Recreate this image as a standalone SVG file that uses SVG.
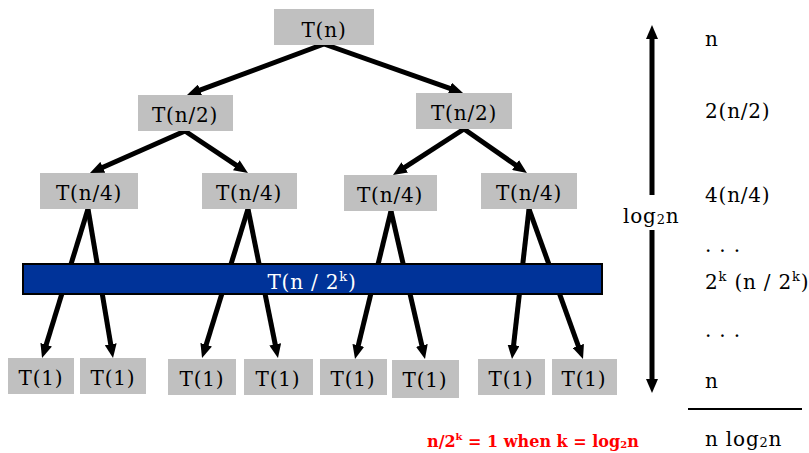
<svg xmlns="http://www.w3.org/2000/svg" width="809" height="453" viewBox="0 0 809 453">
<defs>
<style>
.box{fill:#c0c0c0}
.t{font-family:"DejaVu Serif","Liberation Serif",serif;font-size:20px;letter-spacing:0.8px;fill:#000;text-anchor:middle}
.r{font-family:"DejaVu Serif","Liberation Serif",serif;font-size:20px;letter-spacing:0.8px;fill:#000}
.ln{stroke:#000;stroke-width:5;fill:none;marker-end:url(#ah)}
.sup{font-size:13px}
</style>
<marker id="ah" markerUnits="userSpaceOnUse" viewBox="0 0 14 12" markerWidth="14" markerHeight="12" refX="6" refY="6" orient="auto">
<path d="M0,0 L14,6 L0,12 z" fill="#000"/>
</marker>
</defs>
<rect width="809" height="453" fill="#fff"/>
<g id="connectors">
<line class="ln" x1="324" y1="44" x2="194.5" y2="92.2"/>
<line class="ln" x1="324" y1="44" x2="455.5" y2="90.3"/>
<line class="ln" x1="185" y1="131" x2="97.3" y2="169.8"/>
<line class="ln" x1="185" y1="131" x2="241.3" y2="168.6"/>
<line class="ln" x1="464" y1="129" x2="399.7" y2="170.6"/>
<line class="ln" x1="464" y1="129" x2="520.4" y2="168.4"/>
<line class="ln" x1="88" y1="209" x2="44.4" y2="350.4"/>
<line class="ln" x1="88" y1="209" x2="111.7" y2="350.1"/>
<line class="ln" x1="248" y1="209" x2="204.4" y2="350.4"/>
<line class="ln" x1="248" y1="209" x2="276.4" y2="350.2"/>
<line class="ln" x1="391" y1="211" x2="356.9" y2="351.2"/>
<line class="ln" x1="391" y1="211" x2="423.2" y2="351.2"/>
<line class="ln" x1="529" y1="209" x2="512.9" y2="351.1"/>
<line class="ln" x1="529" y1="209" x2="580.3" y2="351.5"/>
<line class="ln" x1="652" y1="195" x2="652" y2="33"/>
<line class="ln" x1="652" y1="230" x2="652" y2="385"/>
</g>
<g id="n-root"><rect class="box" x="274" y="9" width="100" height="36"/><text class="t" x="324" y="37">T(n)</text></g>
<g id="n-l2a"><rect class="box" x="138" y="95" width="95" height="36"/><text class="t" x="185" y="122">T(n/2)</text></g>
<g id="n-l2b"><rect class="box" x="416" y="93" width="96" height="36"/><text class="t" x="464" y="120">T(n/2)</text></g>
<g id="n-l4a"><rect class="box" x="40" y="173" width="98" height="36"/><text class="t" x="89" y="200">T(n/4)</text></g>
<g id="n-l4b"><rect class="box" x="202" y="173" width="95" height="36"/><text class="t" x="249" y="200">T(n/4)</text></g>
<g id="n-l4c"><rect class="box" x="344" y="175" width="93" height="36"/><text class="t" x="390" y="202">T(n/4)</text></g>
<g id="n-l4d"><rect class="box" x="481" y="173" width="96" height="36"/><text class="t" x="529" y="200">T(n/4)</text></g>
<g id="n-level-k"><rect x="23" y="264" width="579" height="30" fill="#003399" stroke="#000" stroke-width="2"/><text class="t" x="312" y="289" style="fill:#fff">T(n / 2<tspan class="sup" dy="-8">k</tspan><tspan dy="8">)</tspan></text></g>
<g id="n-leaf1"><rect class="box" x="8" y="358" width="66" height="36"/><text class="t" x="41" y="385">T(1)</text></g>
<g id="n-leaf2"><rect class="box" x="80" y="358" width="66" height="36"/><text class="t" x="113" y="385">T(1)</text></g>
<g id="n-leaf3"><rect class="box" x="168" y="359" width="68" height="36"/><text class="t" x="202" y="386">T(1)</text></g>
<g id="n-leaf4"><rect class="box" x="244" y="359" width="69" height="36"/><text class="t" x="278" y="386">T(1)</text></g>
<g id="n-leaf5"><rect class="box" x="320" y="359" width="67" height="36"/><text class="t" x="353" y="386">T(1)</text></g>
<g id="n-leaf6"><rect class="box" x="392" y="360" width="67" height="38"/><text class="t" x="425" y="387">T(1)</text></g>
<g id="n-leaf7"><rect class="box" x="478" y="359" width="67" height="36"/><text class="t" x="511" y="386">T(1)</text></g>
<g id="n-leaf8"><rect class="box" x="552" y="359" width="65" height="36"/><text class="t" x="584" y="386">T(1)</text></g>
<g id="labels">
<text class="r" x="623" y="223">log<tspan class="sup" dy="1">2</tspan><tspan dy="-1">n</tspan></text>
<text class="r" x="705" y="46">n</text>
<text class="r" x="705" y="118">2(n/2)</text>
<text class="r" x="705" y="202">4(n/4)</text>
<text class="r" x="705" y="252">. . .</text>
<text class="r" x="705" y="289">2<tspan class="sup" dy="-8">k</tspan><tspan dy="8"> (n / 2</tspan><tspan class="sup" dy="-8">k</tspan><tspan dy="8">)</tspan></text>
<text class="r" x="705" y="337">. . .</text>
<text class="r" x="705" y="388">n</text>
<line x1="688" y1="409" x2="802" y2="409" stroke="#000" stroke-width="2"/>
<text class="r" x="705" y="446">n log<tspan class="sup" dy="1">2</tspan><tspan dy="-1">n</tspan></text>
<text x="427" y="447" style="font-family:'DejaVu Serif','Liberation Serif',serif;font-size:16px;font-weight:bold;fill:#ff0000">n/2<tspan font-size="10" dy="-7">k</tspan><tspan dy="7"> = 1 when k = log</tspan><tspan font-size="10" dy="1">2</tspan><tspan dy="-1">n</tspan></text>
</g>
</svg>
